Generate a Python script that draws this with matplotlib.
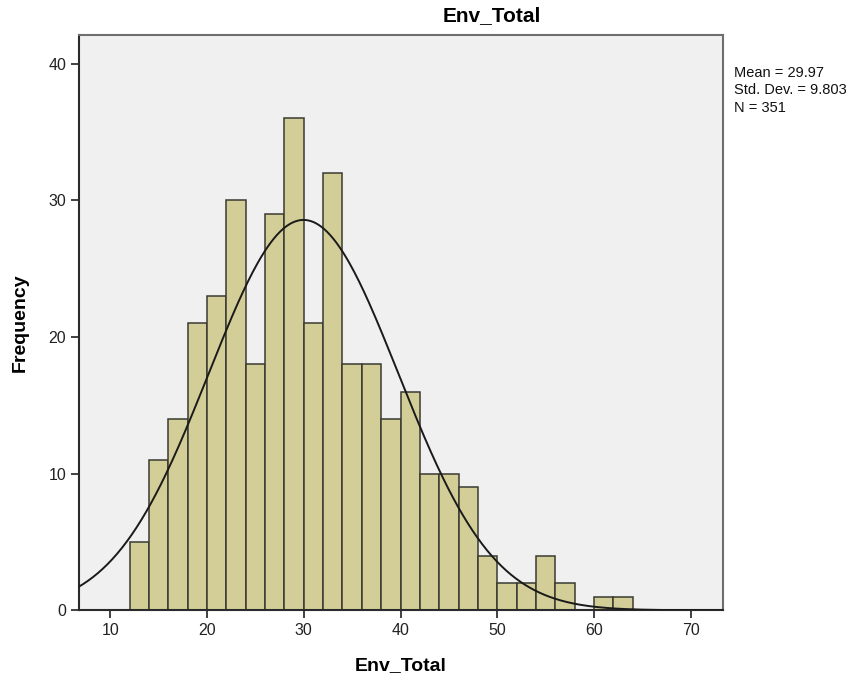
import numpy as np
import matplotlib
matplotlib.use("Agg")
import matplotlib.pyplot as plt

plt.rcParams['font.family'] = ['Liberation Sans', 'DejaVu Sans']

# histogram bins (width 2) and counts
bin_edges = [12, 14, 16, 18, 20, 22, 24, 26, 28, 30, 32, 34, 36, 38, 40,
             42, 44, 46, 48, 50, 52, 54, 56, 58, 60, 62, 64]
counts = [5, 11, 14, 21, 23, 30, 18, 29, 36, 21, 32, 18, 18, 14, 16,
          10, 10, 9, 4, 2, 2, 4, 2, 0, 1, 1]
mean = 29.97
std = 9.803
n = 351
bin_width = 2

x_ticks = [10, 20, 30, 40, 50, 60, 70]
y_ticks = [0, 10, 20, 30, 40]

bg = '#F0F0F0'
bar_color = '#D3CE97'
edge = '#3A3A32'

fig = plt.figure(figsize=(8.67, 6.79), dpi=100)
ax = fig.add_axes([0.0908, 0.1012, 0.7428, 0.8468])
ax.set_facecolor(bg)

lefts = bin_edges[:-1]
for left, c in zip(lefts, counts):
    if c > 0:
        ax.bar(left, c, width=bin_width, align='edge', color=bar_color,
               edgecolor=edge, linewidth=1.1, zorder=2)

# fitted normal curve
xs = np.linspace(6.7, 73.3, 400)
ys = n * bin_width / (std * np.sqrt(2 * np.pi)) * np.exp(-0.5 * ((xs - mean) / std) ** 2)
ax.plot(xs, ys, color='#1a1a1a', linewidth=1.4, zorder=3)

ax.set_xlim(6.73, 73.31)
ax.set_ylim(0, 42.08)
ax.set_xticks(x_ticks)
ax.set_yticks(y_ticks)
ax.tick_params(direction='out', length=6, width=1.3, color='#333333',
               labelsize=11.5, labelcolor='#222222', pad=3)

for side in ['left', 'bottom']:
    ax.spines[side].set_color('#2a2a2a')
    ax.spines[side].set_linewidth(1.5)
for side in ['top', 'right']:
    ax.spines[side].set_color('#6e6e6e')
    ax.spines[side].set_linewidth(1.5)

ax.set_xlabel('Env_Total', fontsize=14, fontweight='bold', labelpad=14)
ax.set_ylabel('Frequency', fontsize=14, fontweight='bold', labelpad=14)

fig.text(492 / 867, 1 - 16 / 679, 'Env_Total', fontsize=15, fontweight='bold',
         ha='center', va='center')

stats = 'Mean = {:.2f}\nStd. Dev. = {:.3f}\nN = {}'.format(mean, std, n)
fig.text(734 / 867, 1 - 66 / 679, stats, fontsize=10.5, ha='left', va='top',
         linespacing=1.3, color='#111111')

fig.savefig('out.png', dpi=100, facecolor='white')
